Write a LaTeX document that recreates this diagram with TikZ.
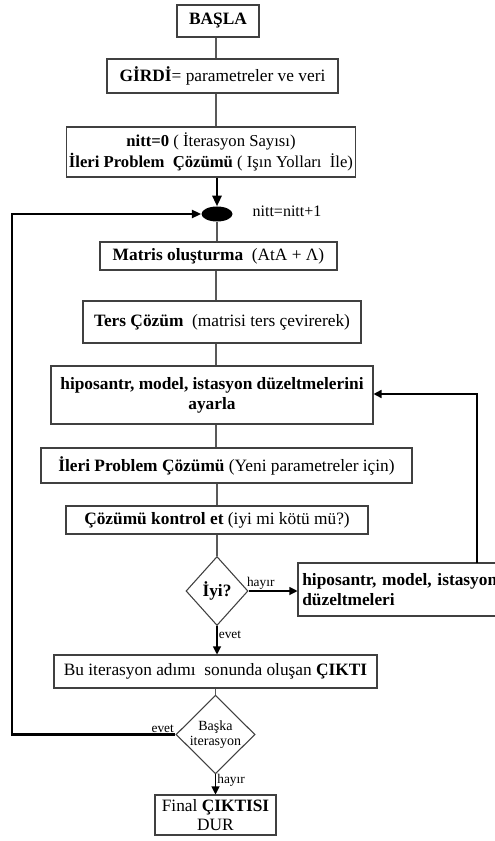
\documentclass[tikz,border=0pt]{standalone}
\usepackage{fontspec}
\setmainfont{Liberation Serif}
\usetikzlibrary{shapes.geometric,arrows.meta}
\begin{document}
\begin{tikzpicture}[x=0.75pt,y=-0.75pt,
  box/.style={draw=black!75,line width=0.8pt,fill=white,inner sep=2pt,align=center,font=\fontsize{13}{15}\selectfont},
  dia/.style={diamond,draw=black!75,line width=0.8pt,fill=white,inner sep=0pt,align=center},
  thin/.style={draw=black!65,line width=0.8pt},
  loopline/.style={draw=black,line width=1.6pt},
  arr/.style={draw=black,line width=0.8pt,-{Triangle[length=6pt,width=6pt]}},
  lbl/.style={font=\fontsize{10}{12}\selectfont,inner sep=1pt}]
\useasboundingbox (0,0) rectangle (494,841);
\coordinate (sp) at (216,0);
\node[box,minimum width=61.5pt,minimum height=24pt] (basla) at (218,21) {\textbf{BAŞLA}};
\node[box,minimum width=173.25pt,minimum height=25.5pt] (girdi) at (222.5,76) {\textbf{GİRDİ}= parametreler ve veri};
\node[box,minimum width=201pt,minimum height=37.5pt,font=\fontsize{12.5}{16}\selectfont] (nitt) at (211,152) {\textbf{nitt=0} ( İterasyon Sayısı)\\\textbf{İleri Problem\ \ Çözümü} ( Işın Yolları\ \ İle)};
\node[ellipse,fill=black,minimum width=23.25pt,minimum height=11.25pt,inner sep=0pt] (dot) at (217,214) {};
\node[font=\fontsize{12}{14}\selectfont,inner sep=0pt] (inc) at (287,211) {nitt=nitt+1};
\node[box,minimum width=177.75pt,minimum height=21pt] (matris) at (218.5,256) {\textbf{Matris oluşturma}\ \ (AtA + Λ)};
\node[box,minimum width=208.5pt,minimum height=31.5pt] (ters) at (222,322) {\textbf{Ters Çözüm}\ \ (matrisi ters çevirerek)};
\node[box,minimum width=241.5pt,minimum height=43.5pt] (hipo) at (212,395) {\textbf{hiposantr, model, istasyon düzeltmelerini}\\\textbf{ayarla}};
\node[box,minimum width=278.25pt,minimum height=26.25pt] (ileri) at (226.5,465.5) {\textbf{İleri Problem Çözümü} (Yeni parametreler için)};
\node[box,minimum width=226.5pt,minimum height=21pt] (kontrol) at (217,520) {\textbf{Çözümü kontrol et} (iyi mi kötü mü?)};
\node[dia,minimum width=46.5pt,minimum height=51.75pt,font=\fontsize{13}{15}\selectfont] (iyi) at (217,591) {\textbf{İyi?}};
\node[box,minimum width=166.5pt,minimum height=39.75pt,text width=160pt,align=left,inner xsep=3pt] (hipoB) at (409,589.5) {\textbf{hiposantr, model, istasyon}\\\textbf{düzeltmeleri}};
\node[box,minimum width=242.25pt,minimum height=24.75pt] (bu) at (215.5,671.5) {Bu iterasyon adımı\ \ sonunda oluşan \textbf{ÇIKTI}};
\node[dia,minimum width=59.25pt,minimum height=50.25pt,font=\fontsize{10.5}{11}\selectfont] (baska) at (215.5,734.5) {Başka\\iterasyon};
\node[box,minimum width=90.75pt,minimum height=30pt,font=\fontsize{13}{14}\selectfont] (final) at (215.5,815) {Final \textbf{ÇIKTISI}\\DUR};
\coordinate (rt) at (477,563);
\coordinate (rtop) at (477,394);
\coordinate (lft) at (12,734.5);
% connectors
\draw[thin] (basla.south -| sp) -- (girdi.north -| sp);
\draw[thin] (girdi.south -| sp) -- (nitt.north -| sp);
\draw[draw=black,line width=1.6pt,-{Triangle[length=8pt,width=7pt]}] (nitt.south -| dot.north) -- (dot.north);
\draw[thin] (dot) -- (dot |- matris.north);
\draw[thin] (matris.south -| sp) -- (ters.north -| sp);
\draw[thin] (ters.south -| sp) -- (hipo.north -| sp);
\draw[thin] (hipo.south -| sp) -- (ileri.north -| sp);
\draw[thin] (kontrol.north |- ileri.south) -- (kontrol.north);
\draw[thin] (kontrol.south) -- (iyi.north);
\draw[arr] (iyi.east) -- node[lbl,above,pos=0.25] {hayır} (iyi.east -| hipoB.west);
\draw[draw=black,line width=1.2pt,-{Triangle[length=6pt,width=6pt]}] (rt) -- (rtop) -- (rtop -| hipo.east);
\draw[arr] (iyi.south) -- node[lbl,right,pos=0.3] {evet} (iyi.south |- bu.north);
\draw[thin] (baska.north |- bu.south) -- (baska.north);
\draw[loopline,-{Triangle[length=7pt,width=6pt]}] (baska.west) -- (lft) |- (dot.west);
\node[lbl,above left] (evl) at (baska.west) {evet};
\draw[arr] (baska.south) -- node[lbl,right,pos=0.3] {hayır} (final.north);
\end{tikzpicture}
\end{document}
